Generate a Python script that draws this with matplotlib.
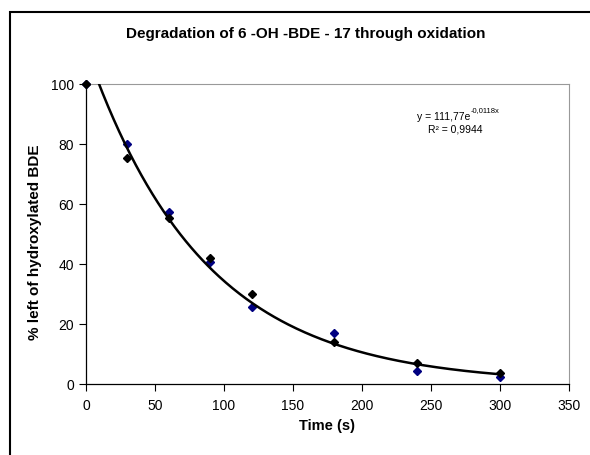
import numpy as np
import matplotlib.pyplot as plt
from matplotlib.patches import Rectangle

plt.rcParams['font.family'] = ['Liberation Sans', 'DejaVu Sans']

time_s = [0, 30, 60, 90, 120, 180, 240, 300]
run_black = [100, 75.5, 55.5, 42, 30, 14, 7, 3.7]
run_blue = [100, 80, 57.3, 40.8, 25.8, 17, 4.5, 2.4]

# tendance exponentielle (Excel)
fit_a = 111.77
fit_b = -0.0118

W, H = 590, 455
fig = plt.figure(figsize=(5.9, 4.55), dpi=100)
ax = fig.add_axes([86/W, 1-384/H, (569-86)/W, (384-84)/H])

# cadre du graphique
fig.patches.append(Rectangle((10/W, -0.2), 1.2, 1.2 - 12/H, transform=fig.transFigure,
                             fill=False, edgecolor='black', linewidth=1.5))

ax.plot(time_s, run_blue, 'D', color='#000080', markersize=4.5, zorder=3, clip_on=False)
ax.plot(time_s, run_black, 'D', color='black', markersize=4.5, zorder=4, clip_on=False)

xs = np.linspace(0, 300, 300)
ax.plot(xs, fit_a*np.exp(fit_b*xs), color='black', linewidth=1.8, zorder=5)

ax.set_xlim(0, 350)
ax.set_ylim(0, 100)
ax.set_xticks(np.arange(0, 351, 50))
ax.set_yticks(np.arange(0, 101, 20))
ax.tick_params(direction='out', length=5, width=0.8, labelsize=10)
ax.tick_params(axis='x', pad=6)
ax.tick_params(axis='y', pad=3.5)
for s in ['top', 'right']:
    ax.spines[s].set_color('#999999')
ax.spines['left'].set_linewidth(0.9)
ax.spines['bottom'].set_linewidth(0.9)

fig.text(306/W, 1-34/H, "Degradation of 6 -OH -BDE - 17 through oxidation",
         fontsize=11, fontweight='bold', ha='center', va='center')
fig.text(327/W, 1-426/H, "Time (s)", fontsize=10.5, fontweight='bold', ha='center', va='center')
fig.text(35/W, 1-242/H, "% left of hydroxylated BDE", fontsize=11, fontweight='bold',
         ha='center', va='center', rotation=90)

# équation de la tendance
ax.text(278.5, 88, "y = 111,77e", fontsize=7.5, ha='right', va='baseline')
ax.text(279, 90.8, "-0,0118x", fontsize=5.5, ha='left', va='baseline')
ax.text(287, 83.7, "R² = 0,9944", fontsize=7.5, ha='right', va='baseline')

plt.savefig("out.png", dpi=100)
